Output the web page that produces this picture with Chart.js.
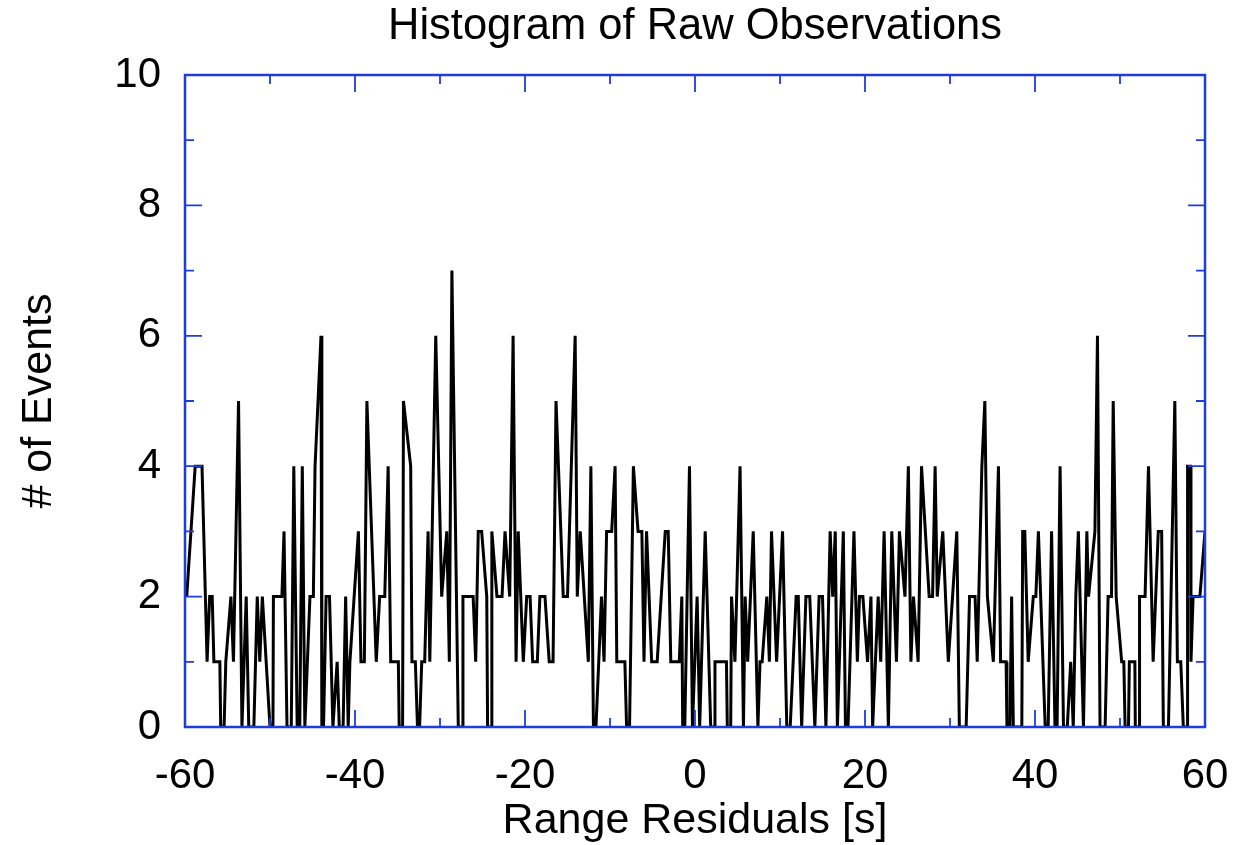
<!DOCTYPE html>
<html>
<head>
<meta charset="utf-8">
<title>Histogram of Raw Observations</title>
<script src="https://cdn.jsdelivr.net/npm/chart.js@4.4.1/dist/chart.umd.min.js"></script>
<style>
  html, body { margin: 0; padding: 0; background: #fff; }
  #wrap { width: 1234px; height: 845px; }
</style>
</head>
<body>
<div id="wrap"><canvas id="histChart" width="1234" height="845"></canvas></div>
<script>
// residual [s] of each vertex and the event count there
var residuals = [
  -59.8, -58.8, -58.0, -57.4, -57.1, -56.8, -56.6, -55.9, -55.8, -55.4, -55.2, -54.6, -54.3, -53.7, -53.3, -52.8, -52.5, -51.9, -51.5, -51.2, -50.9, -50.0, -49.65, -49.6, -48.6, -48.35, -48.0,
  -47.5, -47.2, -46.8, -46.5, -46.2, -45.9, -45.3, -44.9, -44.7, -44.0, -43.9, -43.7, -43.4, -43.0, -42.6, -42.1, -41.85, -41.4, -41.1, -40.8, -40.6, -39.6, -39.3, -38.9, -38.6, -37.5, -37.1, -36.5,
  -36.1, -35.8, -34.9, -34.8, -34.4, -34.3, -33.45, -33.3, -32.9, -32.65, -32.4, -32.15, -31.8, -31.4, -31.2, -30.5, -29.8, -29.2, -28.9, -28.6, -27.85, -27.35, -27.3, -26.1, -25.8, -25.5, -25.1,
  -24.5, -24.4, -24.0, -23.9, -23.3, -22.7, -22.35, -21.8, -21.4, -21.05, -20.8, -20.2, -19.8, -19.4, -19.1, -18.55, -18.25, -17.65, -17.15, -16.7, -16.35, -15.5, -15.0, -14.1, -13.85, -13.5,
  -12.55, -12.25, -11.95, -11.65, -11.0, -10.7, -10.4, -9.8, -9.4, -9.2, -8.25, -8.05, -7.7, -7.25, -6.7, -6.25, -6.0, -5.7, -5.1, -4.45, -3.5, -3.15, -2.85, -1.85, -1.55,
  -1.45, -1.2, -0.65, -0.3, 0.25, 0.55, 1.2, 1.85, 2.3, 2.35, 3.7, 3.8, 4.2, 4.3, 4.7, 5.3, 5.7, 5.9, 6.2, 6.85, 7.4, 7.65, 7.9, 8.45, 8.75, 9.0, 9.6, 10.3, 10.8,
  11.2, 11.9, 12.15, 12.55, 13.05, 13.5, 14.1, 14.6, 15.0, 15.4, 15.9, 16.2, 16.5, 16.75, 17.45, 17.7, 18.0, 18.7, 19.1, 19.35, 19.75, 20.3, 20.7, 20.9, 21.55, 21.85, 22.25,
  22.75, 23.15, 23.7, 24.05, 24.7, 25.1, 25.4, 25.7, 26.25, 26.65, 27.55, 27.95, 28.25, 28.5, 29.15, 29.8, 30.8, 31.1, 31.9, 32.3, 32.95, 33.2, 33.75, 34.1,
  34.4, 35.1, 35.7, 35.95, 36.6, 36.7, 37.05, 37.25, 37.45, 38.45, 38.55, 38.8, 39.2, 39.8, 40.1, 40.4, 41.2, 41.55, 41.95, 42.35, 42.6, 42.95, 43.35, 43.8, 44.2, 44.5, 44.8, 45.1, 45.7,
  46.1, 46.3, 47.05, 47.35, 47.65, 48.25, 48.6, 49.0, 49.2, 49.55, 50.2, 50.45, 50.6, 51.0, 51.1, 51.75, 51.8, 52.25, 52.3, 52.95, 53.35, 53.9, 54.5, 54.9, 55.1, 55.7, 56.45, 56.75,
  57.15, 57.45, 57.9, 57.95, 58.3, 58.35, 58.6, 59.4, 60.0
];
var counts = [
  2, 4, 4, 1, 2, 2, 1, 1, 0, 0, 1, 2, 1, 5, 0, 2, 0, 0, 2, 1, 2, 0, 0, 2, 2, 3, 0,
  0, 4, 0, 0, 4, 0, 2, 2, 4, 6, 0, 0, 2, 2, 0, 1, 0, 0, 2, 0, 1, 3, 1, 1, 5, 1, 2, 2,
  4, 1, 1, 0, 0, 5, 4, 1, 1, 0, 0, 1, 1, 3, 1, 6, 2, 3, 1, 7, 0, 0, 2, 2, 1, 3, 3,
  2, 0, 0, 3, 2, 2, 3, 2, 6, 1, 3, 1, 2, 2, 1, 1, 2, 2, 1, 1, 5, 2, 2, 6, 2, 3,
  1, 4, 0, 0, 2, 1, 3, 3, 4, 1, 1, 0, 0, 4, 3, 3, 1, 3, 1, 1, 3, 3, 1, 1, 2,
  0, 0, 4, 0, 2, 0, 3, 0, 0, 1, 1, 0, 0, 2, 1, 4, 0, 2, 1, 3, 0, 1, 1, 2, 1, 3, 1, 3, 0,
  0, 2, 2, 0, 2, 2, 0, 2, 2, 0, 3, 2, 3, 0, 3, 0, 0, 3, 1, 2, 2, 1, 2, 0, 2, 1, 3,
  0, 3, 1, 3, 2, 4, 1, 2, 1, 4, 2, 2, 4, 2, 3, 1, 3, 0, 0, 2, 2, 1, 4, 5,
  2, 1, 4, 1, 1, 0, 0, 2, 0, 0, 3, 3, 1, 2, 2, 3, 0, 0, 3, 0, 0, 4, 0, 0, 1, 0, 2, 3, 0,
  3, 2, 3, 6, 0, 0, 2, 2, 5, 2, 1, 1, 0, 0, 1, 1, 0, 0, 2, 2, 4, 1, 3, 3, 0, 0, 5, 1,
  1, 0, 0, 4, 4, 1, 2, 2, 3
];

var xMin = -60, xMax = 60, xStep = 20;
var yMin = 0, yMax = 10, yStep = 2;

var axisBlue = '#1f3ddc';
var fontFamily = '"Liberation Sans", Arial, Helvetica, sans-serif';

var points = residuals.map(function (r, i) { return { x: r, y: counts[i] }; });

// box frame + inward ticks on all four sides (major from the scale, minor halfway)
var frameTicks = {
  id: 'frameTicks',
  afterDraw: function (chart) {
    var ctx = chart.ctx, a = chart.chartArea;
    var xs = chart.scales.x, ys = chart.scales.y;
    var majorLen = 17, minorLen = 9;

    function withMinor(scale) {
      var out = [];
      var vals = scale.ticks.map(function (t) { return t.value; });
      for (var i = 0; i < vals.length; i++) {
        out.push({ v: vals[i], len: majorLen });
        if (i < vals.length - 1) out.push({ v: (vals[i] + vals[i + 1]) / 2, len: minorLen });
      }
      return out;
    }

    ctx.save();
    ctx.strokeStyle = axisBlue;
    ctx.lineWidth = 1.8;
    ctx.beginPath();
    withMinor(xs).forEach(function (t) {
      var px = xs.getPixelForValue(t.v);
      ctx.moveTo(px, a.bottom); ctx.lineTo(px, a.bottom - t.len);
      ctx.moveTo(px, a.top); ctx.lineTo(px, a.top + t.len);
    });
    withMinor(ys).forEach(function (t) {
      var py = ys.getPixelForValue(t.v);
      ctx.moveTo(a.left, py); ctx.lineTo(a.left + t.len, py);
      ctx.moveTo(a.right, py); ctx.lineTo(a.right - t.len, py);
    });
    ctx.stroke();
    ctx.lineWidth = 2.5;
    ctx.strokeRect(a.left, a.top, a.right - a.left, a.bottom - a.top);
    ctx.restore();
  }
};

Chart.defaults.font.family = fontFamily;
Chart.defaults.font.size = 42;
Chart.defaults.color = '#000';

var ctx = document.getElementById('histChart');
var histChart = new Chart(ctx, {
  type: 'line',
  data: {
    datasets: [{
      data: points,
      borderColor: '#000',
      borderWidth: 3,
      pointRadius: 0,
      tension: 0,
      fill: false
    }]
  },
  options: {
    responsive: false,
    animation: false,
    layout: { padding: { left: 0, right: 29, top: 0, bottom: 0 } },
    plugins: {
      legend: { display: false },
      tooltip: { enabled: false },
      title: {
        display: true,
        text: 'Histogram of Raw Observations',
        fullSize: false,
        color: '#000',
        font: { size: 43.5, weight: 'normal', lineHeight: 1.2 },
        padding: { top: 1, bottom: 21.8 }
      }
    },
    scales: {
      x: {
        type: 'linear',
        min: xMin,
        max: xMax,
        grid: { display: false, drawTicks: false },
        border: { display: false },
        ticks: { stepSize: xStep, padding: 24, color: '#000', font: { size: 42 } },
        title: {
          display: true,
          text: 'Range Residuals [s]',
          color: '#000',
          font: { size: 43, lineHeight: 1.1 },
          padding: { top: 0, bottom: 0 }
        },
        afterFit: function (scale) {
          scale.height = 118;
          scale.paddingLeft = 0;
          scale.paddingRight = 0;
        }
      },
      y: {
        min: yMin,
        max: yMax,
        grid: { display: false, drawTicks: false },
        border: { display: false },
        ticks: { stepSize: yStep, padding: 24, color: '#000', font: { size: 42 } },
        title: {
          display: true,
          text: '# of Events',
          color: '#000',
          font: { size: 43, lineHeight: 1.1 },
          padding: { top: 15, bottom: 0 }
        },
        afterFit: function (scale) { scale.width = 185; }
      }
    }
  },
  plugins: [frameTicks]
});
</script>
</body>
</html>
